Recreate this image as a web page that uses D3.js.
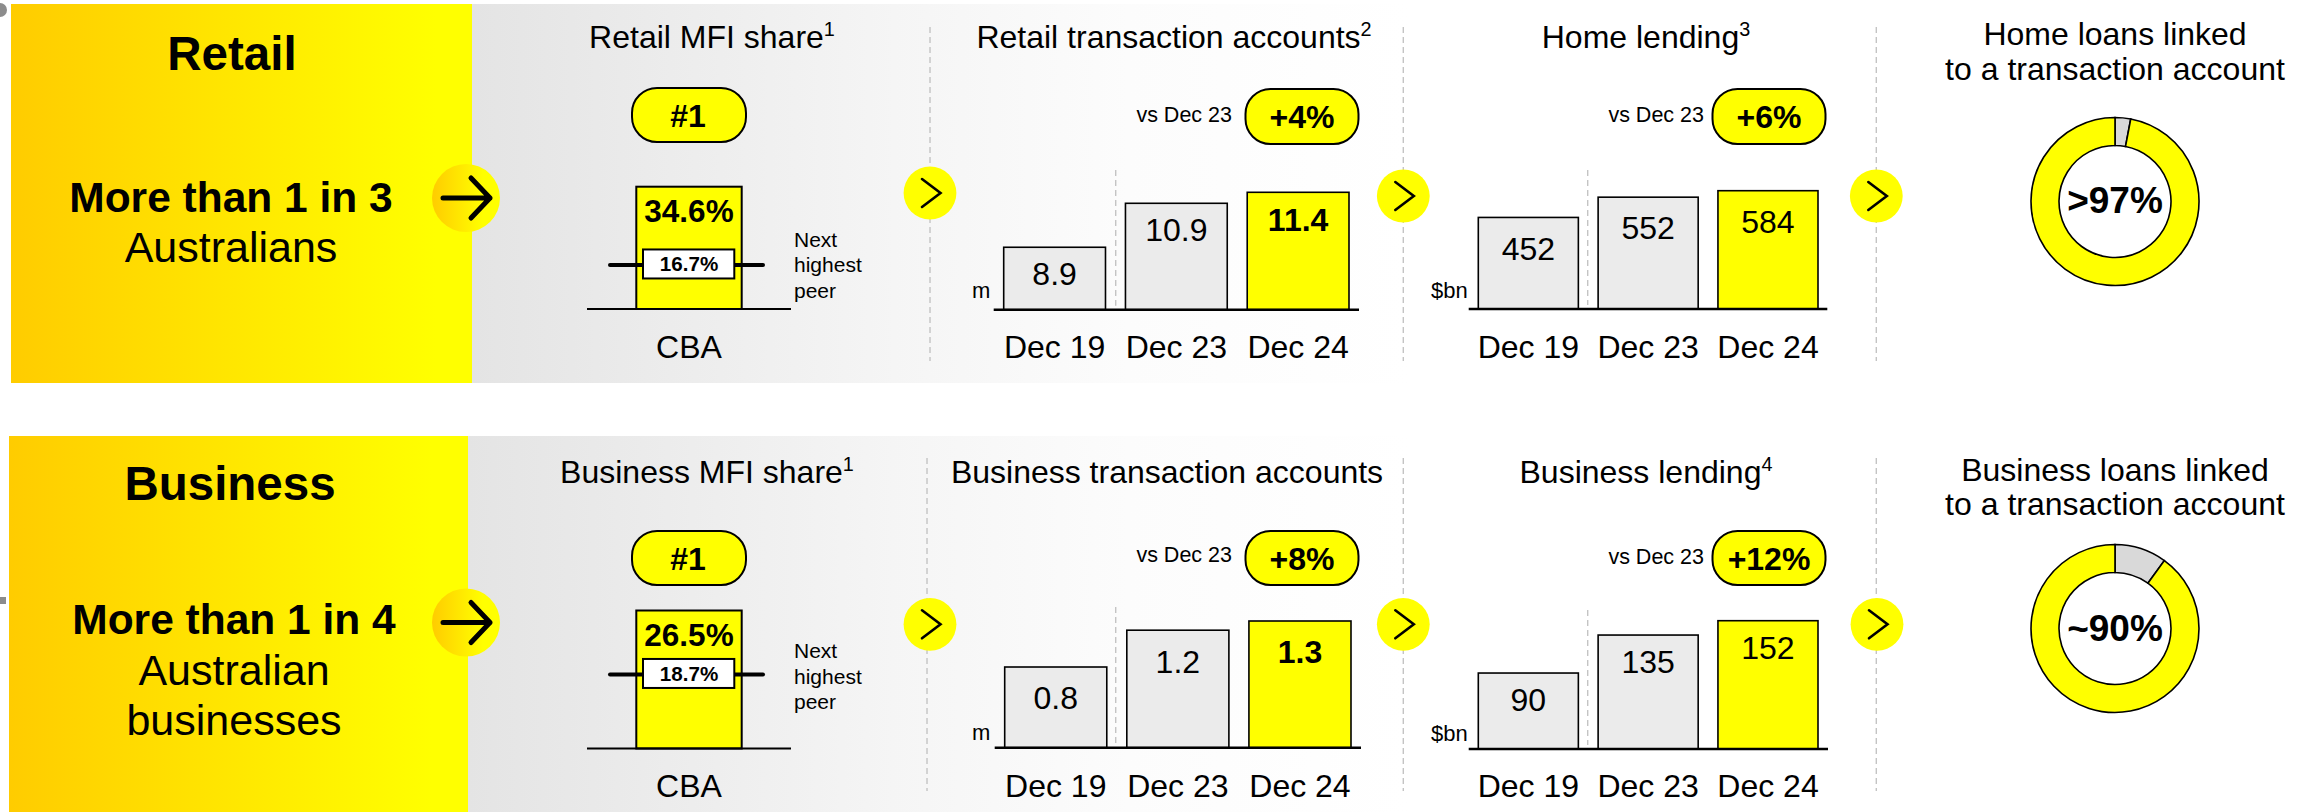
<!DOCTYPE html>
<html><head><meta charset="utf-8">
<style>html,body{margin:0;padding:0;background:#fff}svg{display:block}text{font-family:"Liberation Sans",Arial,sans-serif;fill:#000}</style>
<script src="https://cdn.jsdelivr.net/npm/d3@7"></script>
</head><body><div id="c"></div>
<script>
// ---- data ----
const periods = ["Dec 19", "Dec 23", "Dec 24"];
const retailTransactionAccounts = [8.9, 10.9, 11.4];
const homeLending = [452, 552, 584];
const businessTransactionAccounts = [0.8, 1.2, 1.3];
const businessLending = [90, 135, 152];
const retailShare = 34.6, retailPeerShare = 16.7;
const businessShare = 26.5, businessPeerShare = 18.7;
const retailLinked = [3, 97];
const businessLinked = [10, 90];
const growthLabels = ["+4%", "+6%", "+8%", "+12%"];

// ---- layout ----
const W = 2306, H = 812;
const svg = d3.select("#c").append("svg").attr("width", W).attr("height", H);
const defs = svg.append("defs");
function grad(id, stops) {
  const g = defs.append("linearGradient").attr("id", id).attr("x1", 0).attr("x2", 1).attr("y1", 0).attr("y2", 0);
  stops.forEach(s => g.append("stop").attr("offset", s[0]).attr("stop-color", s[1]));
}
grad("gold", [[0, "#ffcc00"], [0.92, "#ffff00"], [1, "#ffff00"]]);
grad("grey", [[0, "#e4e4e4"], [0.45, "#f5f5f5"], [0.7, "#fcfcfc"], [1, "#ffffff"]]);
grad("ball", [[0, "#ffcc00"], [0.75, "#ffff00"], [1, "#ffff00"]]);

function txt(g, s, x, y, size, o) {
  o = o || {};
  const t = g.append("text").attr("x", x).attr("y", y).attr("font-size", size)
    .attr("text-anchor", o.anchor || "middle").attr("font-weight", o.bold ? 700 : 400);
  t.append("tspan").text(s);
  if (o.sup) t.append("tspan").text(o.sup).attr("font-size", size * 0.62).attr("dy", -size * 0.36);
  return t;
}
function pill(g, cx, y0, y1, w, label, tx) {
  g.append("rect").attr("x", cx - w / 2).attr("y", y0).attr("width", w).attr("height", y1 - y0)
    .attr("rx", 25).attr("ry", 25).attr("fill", "#ffff00").attr("stroke", "#000").attr("stroke-width", 2);
  txt(g, label, tx || cx, (y0 + y1) / 2 + 11.5, 32, { bold: true });
}
function chevron(g, cx, cy) {
  g.append("circle").attr("cx", cx).attr("cy", cy).attr("r", 26.4).attr("fill", "#ffff00");
  g.append("path").attr("d", `M${cx - 8},${cy - 14}L${cx + 10.5},${cy}L${cx - 8},${cy + 14}`)
    .attr("fill", "none").attr("stroke", "#000").attr("stroke-width", 2.6).attr("stroke-linecap", "round");
}
function bigArrow(g, cx, cy) {
  g.append("circle").attr("cx", cx).attr("cy", cy).attr("r", 34).attr("fill", "url(#ball)");
  g.append("path").attr("d", `M${cx - 23},${cy}H${cx + 24}M${cx + 5},${cy - 20}L${cx + 24},${cy}L${cx + 5},${cy + 20}`)
    .attr("fill", "none").attr("stroke", "#000").attr("stroke-width", 5).attr("stroke-linecap", "round").attr("stroke-linejoin", "round");
}
function dash(g, x, y0, y1) {
  g.append("line").attr("x1", x).attr("x2", x).attr("y1", y0).attr("y2", y1)
    .attr("stroke", "#c4c4c4").attr("stroke-width", 1.4).attr("stroke-dasharray", "6 4");
}

function barChart(g, o) {
  const x = d3.scaleBand().domain(periods).range([o.x0, o.x1]).paddingInner(o.pad);
  const y = d3.scaleLinear().domain([o.lo, o.hi]).range([o.base, o.top]);
  g.selectAll(null).data(o.values).enter().append("rect")
    .attr("x", (d, i) => x(periods[i])).attr("width", x.bandwidth())
    .attr("y", d => y(d)).attr("height", d => o.base - y(d))
    .attr("fill", (d, i) => i === 2 ? "#ffff00" : "#ebebeb")
    .attr("stroke", "#000").attr("stroke-width", 1.6);
  g.selectAll(null).data(o.values).enter().append("text")
    .attr("x", (d, i) => x(periods[i]) + x.bandwidth() / 2).attr("y", d => y(d) + o.off)
    .attr("text-anchor", "middle").attr("font-size", 32)
    .attr("font-weight", (d, i) => (i === 2 && o.boldLast) ? 700 : 400)
    .text(d => o.fmt(d));
  const ax = g.append("g").attr("transform", `translate(0,${o.base})`)
    .call(d3.axisBottom(x).tickSize(0).tickPadding(o.axisPad));
  ax.select(".domain").remove();
  ax.selectAll("text").attr("font-size", 32).attr("font-family", '"Liberation Sans"');
  g.append("line").attr("x1", o.bx0).attr("x2", o.bx1).attr("y1", o.base).attr("y2", o.base)
    .attr("stroke", "#000").attr("stroke-width", 2.4);
  dash(g, o.sep, o.sepTop, o.base - 4);
  txt(g, o.unit, o.ux, o.uy, 22, { anchor: "start" });
}

function shareBar(g, o) {
  const y = d3.scaleLinear().domain([o.lo, o.share]).range([o.base, o.top]);
  const x = d3.scaleBand().domain(["CBA"]).range([636.3, 741.7]);
  g.append("rect").attr("x", x("CBA")).attr("width", x.bandwidth()).attr("y", y(o.share))
    .attr("height", o.base - y(o.share)).attr("fill", "#ffff00").attr("stroke", "#000").attr("stroke-width", 2);
  g.append("line").attr("x1", 610).attr("x2", 763).attr("y1", y(o.peer)).attr("y2", y(o.peer))
    .attr("stroke", "#000").attr("stroke-width", 4).attr("stroke-linecap", "round");
  g.append("rect").attr("x", 643).attr("width", 91.3).attr("y", y(o.peer) - 15.5).attr("height", 29)
    .attr("fill", "#fff").attr("stroke", "#000").attr("stroke-width", 2);
  txt(g, o.peer.toFixed(1) + "%", 689, y(o.peer) + 6.5, 20.6, { bold: true });
  txt(g, o.share.toFixed(1) + "%", 689, y(o.share) + o.labelOff, 31.5, { bold: true });
  g.append("line").attr("x1", 587).attr("x2", 791).attr("y1", o.base).attr("y2", o.base)
    .attr("stroke", "#000").attr("stroke-width", 2);
  ["Next", "highest", "peer"].forEach((s, i) => txt(g, s, 794, o.noteY + i * 25.5, 21, { anchor: "start" }));
  const ax = g.append("g").attr("transform", `translate(0,${o.base})`)
    .call(d3.axisBottom(x).tickSize(0).tickPadding(o.axisPad));
  ax.select(".domain").remove();
  ax.selectAll("text").attr("font-size", 32).attr("font-family", '"Liberation Sans"');
}

function donut(g, cx, cy, values, label, baseY) {
  const pie = d3.pie().sort(null).value(d => d);
  const arc = d3.arc().innerRadius(56).outerRadius(84);
  g.append("g").attr("transform", `translate(${cx},${cy})`).selectAll("path").data(pie(values)).enter().append("path")
    .attr("d", arc).attr("fill", (d, i) => i === 0 ? "#d9d9d9" : "#ffff00").attr("stroke", "#000").attr("stroke-width", 1.6);
  txt(g, label, cx, baseY, 37, { bold: true });
}

// artefacts at the far left edge
svg.append("circle").attr("cx", 0).attr("cy", 10).attr("r", 7).attr("fill", "#8c8c8c");
svg.append("rect").attr("x", 0).attr("y", 597).attr("width", 6).attr("height", 7).attr("fill", "#8c8c8c");

// ---- Retail row ----
const r = svg.append("g");
r.append("rect").attr("x", 472).attr("y", 4).attr("width", 938).attr("height", 379).attr("fill", "url(#grey)");
r.append("rect").attr("x", 11).attr("y", 4).attr("width", 461).attr("height", 379).attr("fill", "url(#gold)");
txt(r, "Retail", 232, 70, 47.5, { bold: true });
txt(r, "More than 1 in 3", 231, 211.5, 42.5, { bold: true });
txt(r, "Australians", 231, 262, 43);
bigArrow(r, 466, 198);
[930, 1403.3, 1876.3].forEach(x => dash(r, x, 27, 361));
txt(r, "Retail MFI share", 712, 48, 32, { sup: "1" });
txt(r, "Retail transaction accounts", 1174, 48, 32, { sup: "2" });
txt(r, "Home lending", 1646, 48, 32, { sup: "3" });
txt(r, "Home loans linked", 2115, 44.5, 32);
txt(r, "to a transaction account", 2115, 79.5, 32);
pill(r, 689, 88, 142, 114, "#1", 688);
shareBar(r, { share: retailShare, peer: retailPeerShare, lo: 6.63, base: 309, top: 186.7, labelOff: 35, noteY: 246.7, axisPad: 26 });
txt(r, "vs Dec 23", 1232, 122, 21.5, { anchor: "end" });
txt(r, "vs Dec 23", 1704, 122, 21.5, { anchor: "end" });
pill(r, 1302, 89, 144, 113, growthLabels[0]);
pill(r, 1769, 89, 144, 113, growthLabels[1]);
barChart(r, { values: retailTransactionAccounts, lo: 6.06, hi: 11.4, base: 309.7, top: 192.3, x0: 1003.7, x1: 1349, pad: 0.164, off: 38.2, boldLast: true, fmt: d3.format(".1f"), axisPad: 25.5, bx0: 993.7, bx1: 1359, sep: 1115.7, sepTop: 170, unit: "m", ux: 972, uy: 298 });
barChart(r, { values: homeLending, lo: 0, hi: 584, base: 309, top: 190.7, x0: 1478.3, x1: 1818, pad: 0.165, off: 42.3, boldLast: false, fmt: d3.format("d"), axisPad: 26, bx0: 1468.7, bx1: 1827.3, sep: 1587.7, sepTop: 170, unit: "$bn", ux: 1431, uy: 298.3 });
chevron(r, 930, 193); chevron(r, 1403.3, 196); chevron(r, 1876.3, 196);
donut(r, 2115, 201.5, retailLinked, ">97%", 213);

// ---- Business row ----
const b = svg.append("g");
b.append("rect").attr("x", 468).attr("y", 436).attr("width", 942).attr("height", 376).attr("fill", "url(#grey)");
b.append("rect").attr("x", 9).attr("y", 436).attr("width", 459).attr("height", 376).attr("fill", "url(#gold)");
txt(b, "Business", 230, 500, 47.5, { bold: true });
txt(b, "More than 1 in 4", 234, 633.5, 42.5, { bold: true });
txt(b, "Australian", 234, 684.5, 43);
txt(b, "businesses", 234, 735, 43);
bigArrow(b, 466, 622.5);
[927, 1403.3, 1876.3].forEach(x => dash(b, x, 458, 791));
txt(b, "Business MFI share", 707, 483, 32, { sup: "1" });
txt(b, "Business transaction accounts", 1167, 483, 32);
txt(b, "Business lending", 1646, 483, 32, { sup: "4" });
txt(b, "Business loans linked", 2115, 480.5, 32);
txt(b, "to a transaction account", 2115, 514.5, 32);
pill(b, 689, 531, 585, 114, "#1", 688);
shareBar(b, { share: businessShare, peer: businessPeerShare, lo: 9.67, base: 748.5, top: 610.5, labelOff: 35, noteY: 658, axisPad: 26 });
txt(b, "vs Dec 23", 1232, 562, 21.5, { anchor: "end" });
txt(b, "vs Dec 23", 1704, 564, 21.5, { anchor: "end" });
pill(b, 1302, 531, 585, 113, growthLabels[2]);
pill(b, 1769, 531, 585, 113, growthLabels[3]);
barChart(b, { values: businessTransactionAccounts, lo: -0.077, hi: 1.3, base: 747.7, top: 621, x0: 1004.7, x1: 1351, pad: 0.164, off: 42.3, boldLast: true, fmt: d3.format(".1f"), axisPad: 26.5, bx0: 994.7, bx1: 1361, sep: 1115.7, sepTop: 607, unit: "m", ux: 972, uy: 740 });
barChart(b, { values: businessLending, lo: 0, hi: 152, base: 749, top: 620.7, x0: 1478.3, x1: 1818, pad: 0.165, off: 38, boldLast: false, fmt: d3.format("d"), axisPad: 25.5, bx0: 1468.7, bx1: 1828, sep: 1587.7, sepTop: 610, unit: "$bn", ux: 1431, uy: 741 });
chevron(b, 930, 624.3); chevron(b, 1403.3, 624.3); chevron(b, 1877, 624.3);
donut(b, 2115, 628.5, businessLinked, "~90%", 641);
</script></body></html>
